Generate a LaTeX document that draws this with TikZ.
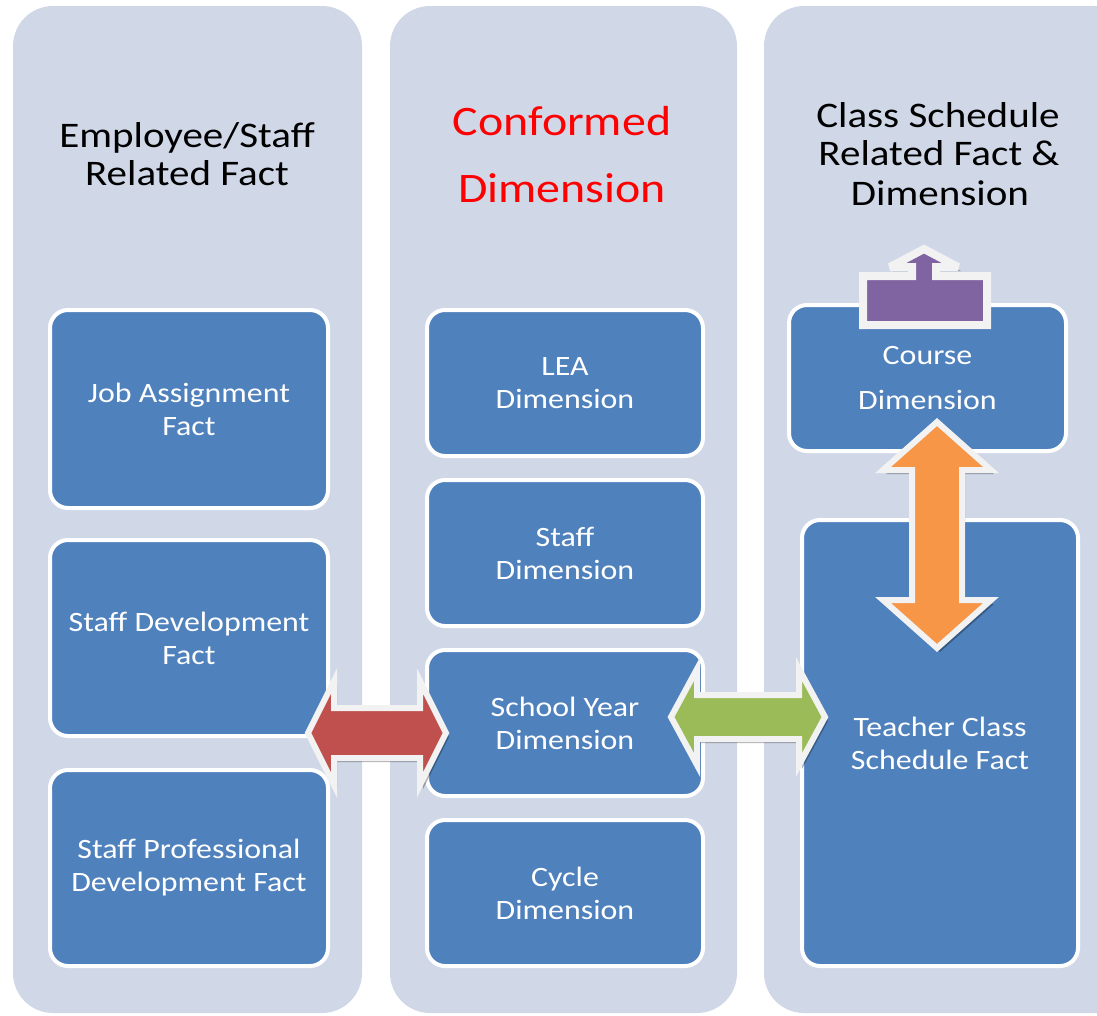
\documentclass[tikz,border=0pt]{standalone}
\usepackage{fontspec}
\setmainfont{Carlito}[FakeStretch=1.14]
\definecolor{panel}{HTML}{D0D8E8}
\definecolor{boxblue}{HTML}{4F81BD}
\definecolor{arrred}{HTML}{C0504D}
\definecolor{arrgreen}{HTML}{9BBB59}
\definecolor{arrorange}{HTML}{F79646}
\definecolor{arrpurple}{HTML}{8064A2}
\definecolor{arredge}{HTML}{F2F2F2}
\newcommand\hdarrow[7]{% x1 x2 yc H h L colour
  \fill[black,opacity=0.3,shift={(3,4)}] (#1,#3) -- (#1+#6,#3-#4) -- (#1+#6,#3-#5) -- (#2-#6,#3-#5) -- (#2-#6,#3-#4) -- (#2,#3) -- (#2-#6,#3+#4) -- (#2-#6,#3+#5) -- (#1+#6,#3+#5) -- (#1+#6,#3+#4) -- cycle;
  \filldraw[arrowshape,fill=#7] (#1,#3) -- (#1+#6,#3-#4) -- (#1+#6,#3-#5) -- (#2-#6,#3-#5) -- (#2-#6,#3-#4) -- (#2,#3) -- (#2-#6,#3+#4) -- (#2-#6,#3+#5) -- (#1+#6,#3+#5) -- (#1+#6,#3+#4) -- cycle;}
\newcommand\vdarrow[7]{% y1 y2 xc H h L colour
  \fill[black,opacity=0.3,shift={(3,4)}] (#3,#1) -- (#3+#4,#1+#6) -- (#3+#5,#1+#6) -- (#3+#5,#2-#6) -- (#3+#4,#2-#6) -- (#3,#2) -- (#3-#4,#2-#6) -- (#3-#5,#2-#6) -- (#3-#5,#1+#6) -- (#3-#4,#1+#6) -- cycle;
  \filldraw[arrowshape,fill=#7] (#3,#1) -- (#3+#4,#1+#6) -- (#3+#5,#1+#6) -- (#3+#5,#2-#6) -- (#3+#4,#2-#6) -- (#3,#2) -- (#3-#4,#2-#6) -- (#3-#5,#2-#6) -- (#3-#5,#1+#6) -- (#3-#4,#1+#6) -- cycle;}
\begin{document}
\begin{tikzpicture}[x=1pt,y=-1pt,
  panelbox/.style={fill=panel,rounded corners=40pt},
  dimbox/.style={draw=white,line width=4pt,fill=boxblue,rounded corners=18pt,text=white,align=center,font=\fontsize{28}{33}\selectfont,inner sep=0pt},
  titletext/.style={anchor=base,font=\fontsize{36}{38}\selectfont,text=black,inner sep=0pt},
  bigtitle/.style={anchor=base,font=\fontsize{42}{48}\selectfont,text=red,inner sep=0pt},
  arrowshape/.style={draw=arredge,line width=6pt,line join=miter}]
\useasboundingbox (0,0) rectangle (1097,1015);
\clip (0,0) rectangle (1097,1015);
% panels
\fill[panelbox] (13,6) rectangle (362,1013);
\fill[panelbox] (390,6) rectangle (737,1013);
\fill[panelbox] (764,6) rectangle (1150,1013);
% titles
\node[titletext] (t1a) at (187,147) {Employee/Staff};
\node[titletext] (t1b) at (187,185) {Related Fact};
\node[bigtitle] (t2a) at (562,135) {Conformed};
\node[bigtitle] (t2b) at (562,202) {Dimension};
\node[titletext] (t3a) at (938,127) {Class Schedule};
\node[titletext] (t3b) at (939,165) {Related Fact \&};
\node[titletext] (t3c) at (940,205) {Dimension};
% left column
\node[dimbox,minimum width=278pt,minimum height=198pt] (job) at (189,409) {Job Assignment\\Fact};
\node[dimbox,minimum width=278pt,minimum height=196pt] (sdev) at (189,638) {Staff Development\\Fact};
\node[dimbox,minimum width=278pt,minimum height=196pt] (sprof) at (189,868) {Staff Professional\\Development Fact};
% middle column
\node[dimbox,minimum width=276pt,minimum height=146pt] (lea) at (565,383) {LEA\\Dimension};
\node[dimbox,minimum width=276pt,minimum height=146pt] (staffdim) at (565,553) {Staff\\Dimension};
\node[dimbox,minimum width=276pt,minimum height=146pt] (school) at (565,723) {School Year\\Dimension};
\node[dimbox,minimum width=276pt,minimum height=146pt] (cycle) at (565,893) {Cycle\\Dimension};
% right column
\node[dimbox,minimum width=277pt,minimum height=146pt,font=\fontsize{28}{45}\selectfont] (course) at (927.5,378) {Course\\Dimension};
\node[dimbox,minimum width=276pt,minimum height=446pt] (teacher) at (940,743) {Teacher Class\\Schedule Fact};
% arrows
\hdarrow{308}{446}{733}{52}{25}{26}{arrred}
\hdarrow{671}{825}{717}{48}{22}{26}{arrgreen}
\vdarrow{422}{648}{937}{54}{25}{48}{arrorange}
% purple callout
\fill[black,opacity=0.3,shift={(3,4)}] (863,325) -- (863,276) -- (912,276) -- (912,267) -- (890,267) -- (924,249) -- (958,267) -- (936,267) -- (936,276) -- (987,276) -- (987,325) -- cycle;
\filldraw[draw=arredge,line width=8pt,line join=miter,miter limit=4,fill=arrpurple] (863,325) -- (863,276) -- (912,276) -- (912,267) -- (890,267) -- (924,249) -- (958,267) -- (936,267) -- (936,276) -- (987,276) -- (987,325) -- cycle;
\end{tikzpicture}
\end{document}
